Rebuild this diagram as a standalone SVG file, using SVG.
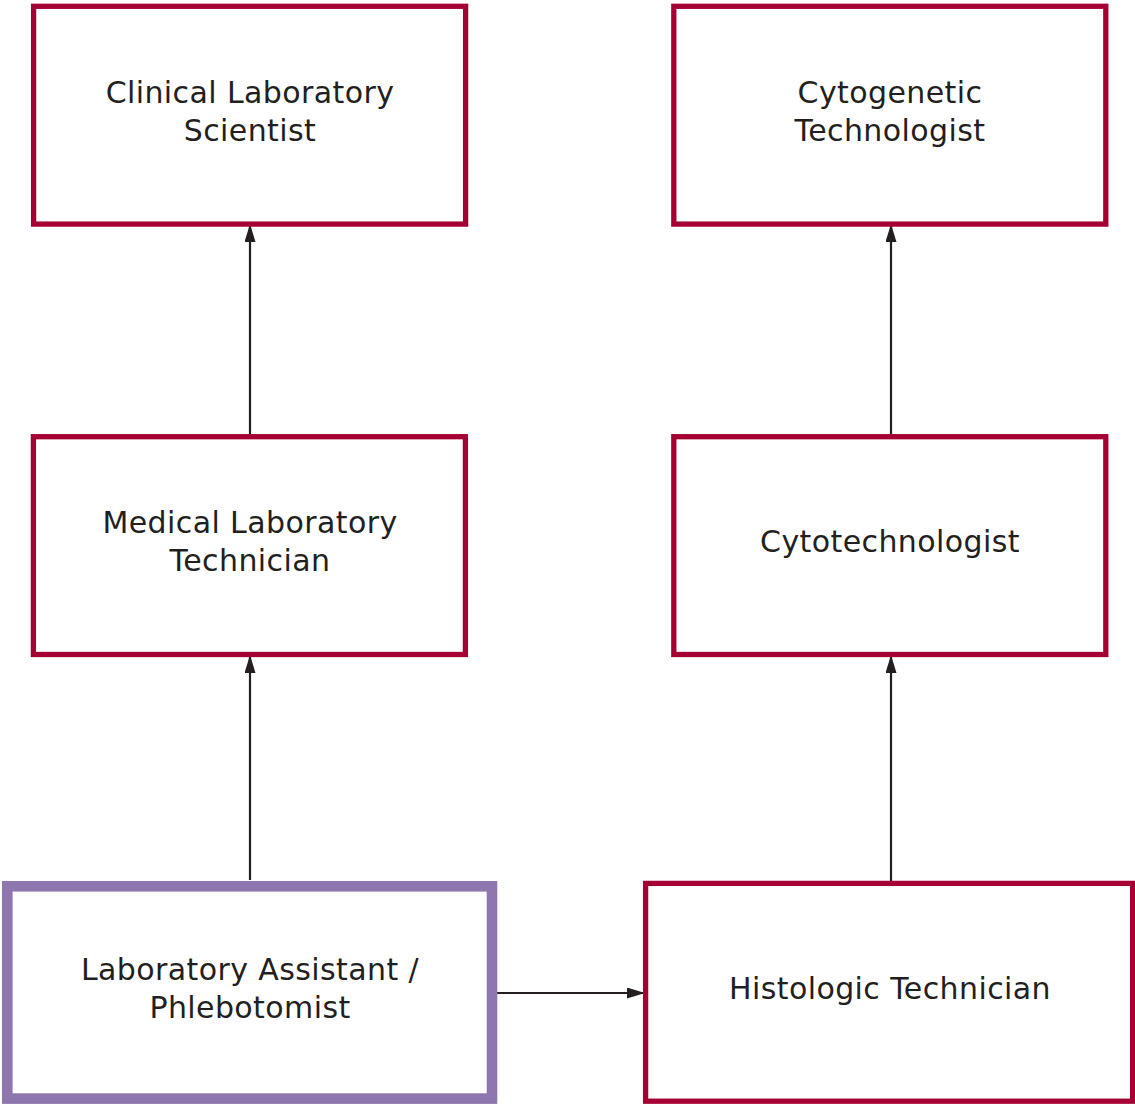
<svg xmlns="http://www.w3.org/2000/svg" width="1135" height="1104" viewBox="0 0 1135 1104">
  <style>
    .box { fill: #ffffff; stroke: #a50034; stroke-width: 5.3; }
    .start { fill: #ffffff; stroke: #8e77af; stroke-width: 10.6; }
    .label { font-family: "DejaVu Sans", "Liberation Sans", sans-serif; font-size: 30px; letter-spacing: 0.4px; fill: #231f20; text-anchor: middle; }
    .link { stroke: #231f20; stroke-width: 2.2; fill: none; }
  </style>
  <defs>
    <marker id="arrow" viewBox="0 0 18 11" refX="17" refY="5.5" markerWidth="18" markerHeight="11" markerUnits="userSpaceOnUse" orient="auto">
      <path d="M0,0 L18,5.5 L0,11 Z" fill="#231f20"/>
    </marker>
  </defs>
  <rect width="1135" height="1104" fill="#ffffff"/>

  <g id="connectors">
    <line class="link" x1="250" y1="880" x2="250" y2="656" marker-end="url(#arrow)"/>
    <line class="link" x1="250" y1="434" x2="250" y2="225" marker-end="url(#arrow)"/>
    <line class="link" x1="891" y1="881" x2="891" y2="656" marker-end="url(#arrow)"/>
    <line class="link" x1="891" y1="434" x2="891" y2="225" marker-end="url(#arrow)"/>
    <line class="link" x1="497" y1="993" x2="644" y2="993" marker-end="url(#arrow)"/>
  </g>

  <g id="clinical-laboratory-scientist">
    <rect class="box" x="33.6" y="6.3" width="432" height="217.8"/>
    <text class="label" x="250" y="103">Clinical Laboratory</text>
    <text class="label" x="250" y="141">Scientist</text>
  </g>

  <g id="cytogenetic-technologist">
    <rect class="box" x="673.8" y="6.3" width="432" height="217.8"/>
    <text class="label" x="890" y="103">Cytogenetic</text>
    <text class="label" x="890" y="141">Technologist</text>
  </g>

  <g id="medical-laboratory-technician">
    <rect class="box" x="33.4" y="436.7" width="432" height="217.8"/>
    <text class="label" x="250" y="533">Medical Laboratory</text>
    <text class="label" x="250" y="571">Technician</text>
  </g>

  <g id="cytotechnologist">
    <rect class="box" x="673.8" y="436.7" width="432" height="217.8"/>
    <text class="label" x="890" y="552">Cytotechnologist</text>
  </g>

  <g id="laboratory-assistant-phlebotomist">
    <rect class="start" x="7.3" y="886.3" width="484.7" height="212.3"/>
    <text class="label" x="250" y="980">Laboratory Assistant /</text>
    <text class="label" x="250" y="1018">Phlebotomist</text>
  </g>

  <g id="histologic-technician">
    <rect class="box" x="645.6" y="883.4" width="487" height="217.8"/>
    <text class="label" x="890" y="999">Histologic Technician</text>
  </g>
</svg>
